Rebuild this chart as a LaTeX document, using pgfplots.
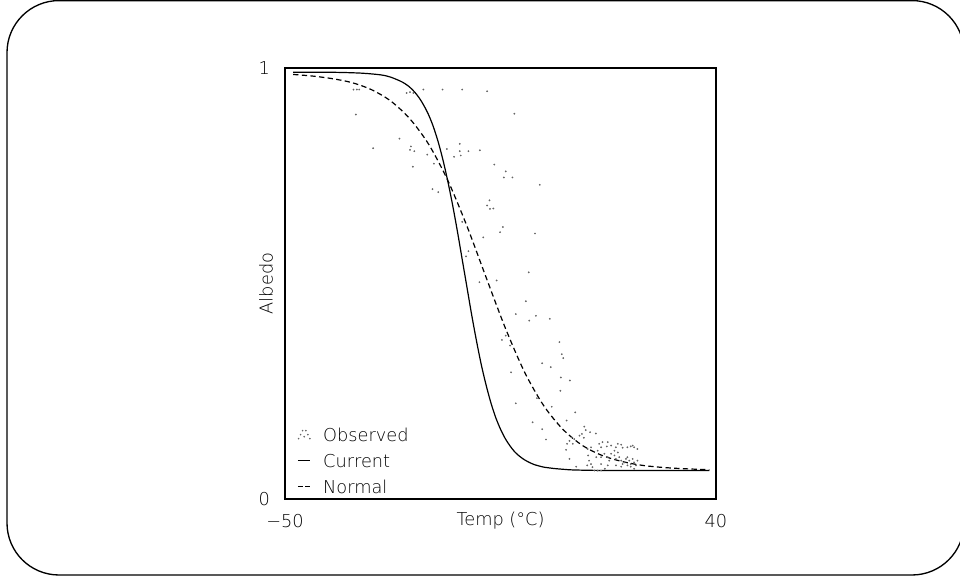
\documentclass[border=0pt]{standalone}
\usepackage{pgfplots}
\pgfplotsset{compat=1.18}
\usepackage{fontspec}
\newfontfamily\hfont{DejaVu Sans ExtraLight}
\newcommand\lf{\hfont\fontsize{13.3}{15}\selectfont}

\begin{document}
\begin{tikzpicture}
% page = 960x577 px at 0.75pt per px
\useasboundingbox (0,0) rectangle (720pt,432.75pt);
\draw[line width=1pt, rounded corners=39pt] (5.25pt,1.5pt) rectangle (723pt,432.3pt);

\begin{axis}[
    at={(213.75pt,58.5pt)}, anchor=south west,
    scale only axis,
    width=323.25pt, height=323.25pt,
    xmin=-50, xmax=40, ymin=0, ymax=1,
    xtick={-50,40}, xticklabels={−50,40},
    ytick={0,1}, yticklabels={0,1},
    major tick length=0pt,
    axis line style={line width=0.9pt},
    tick label style={font=\lf},
    xticklabel style={anchor=center, yshift=-16.3pt},
    yticklabel style={anchor=center, xshift=-15.5pt},
    xlabel={Temp (°C)},
    ylabel={Albedo},
    label style={font=\lf},
    xlabel style={at={(axis description cs:0.5,-0.0503)}, anchor=center},
    ylabel style={at={(axis description cs:-0.0441,0.5)}, anchor=center},
    legend cell align=left,
    legend style={draw=none, fill=none, at={(axis description cs:0.0285,0.0125)},
        anchor=south west, inner sep=0pt, outer sep=0pt,
        row sep=9.6pt, column sep=0pt, font=\lf,
        nodes={inner sep=0pt, outer sep=0pt, text depth=0pt}},
]

% observed
\addplot[only marks, mark=*, mark size=0.45pt, draw=black!60, fill=black!60,
    legend image code/.code={
        \fill[black!60] (0.5pt,-3pt) circle (0.4pt) (2pt,0pt) circle (0.4pt)
            (3.5pt,3pt) circle (0.4pt) (6pt,3pt) circle (0.4pt)
            (7.5pt,0pt) circle (0.4pt) (9pt,-3pt) circle (0.4pt)
            (4.75pt,-1.5pt) circle (0.4pt);
        \path[draw=none, fill=none] (0pt,0pt) -- (19pt,0pt);}]
coordinates {
(-35.7,0.950) (-35.0,0.950) (-34.5,0.950) (-35.2,0.892) (-31.6,0.814)
(-26.1,0.836) (-24.6,0.942) (-23.9,0.944) (-23.2,0.942) (-21.1,0.950)
(-17.1,0.950) (-13.0,0.950) (-7.8,0.946) (-23.7,0.818) (-23.9,0.810)
(-23.0,0.807) (-23.3,0.771) (-20.3,0.799) (-18.9,0.778) (-16.2,0.812)
(-13.5,0.824) (-13.5,0.807) (-13.3,0.797) (-14.7,0.794) (-11.7,0.807)
(-9.3,0.809) (-6.3,0.776) (-19.2,0.719) (-18.0,0.712) (-7.3,0.693)
(-7.8,0.681) (-7.2,0.673) (-6.5,0.674) (-5.1,0.619) (-13.0,0.643)
(-8.6,0.607) (-11.7,0.575) (-12.2,0.563) (-9.4,0.503) (-5.8,0.507)
(-2.1,0.894) (-3.9,0.760) (-4.3,0.746) (-2.5,0.746) (3.2,0.729)
(-4.5,0.631) (2.2,0.616) (0.9,0.526)
(0.3,0.459) (-1.8,0.429) (2.4,0.425) (1.0,0.414) (5.3,0.418)
(-3.9,0.379) (-4.7,0.369) (-3.0,0.356) (7.3,0.364) (7.8,0.336)
(8.1,0.327) (3.7,0.315) (5.5,0.306) (-2.8,0.294) (7.6,0.282)
(9.5,0.275) (7.5,0.251) (2.6,0.234) (-1.8,0.222) (5.7,0.214)
(10.6,0.201) (1.7,0.178) (8.8,0.182) (3.7,0.162) (4.5,0.138)
(12.5,0.168) (12.8,0.160) (13.7,0.155) (14.9,0.152) (9.9,0.143)
(10.4,0.139) (11.5,0.147) (12.4,0.142) (12.0,0.151) (8.9,0.128)
(9.4,0.135) (10.1,0.128) (8.7,0.114) (9.4,0.093) (10.8,0.075)
(13.2,0.116) (13.3,0.101) (13.5,0.089) (13.1,0.078) (14.2,0.074)
(14.6,0.066) (15.3,0.066) (16.0,0.066) (16.8,0.070) (13.9,0.120)
(15.3,0.112) (15.6,0.128) (16.0,0.120) (16.3,0.132) (17.4,0.132)
(17.2,0.122) (18.1,0.124) (19.1,0.120) (19.5,0.128) (20.2,0.126)
(20.5,0.119) (21.5,0.120) (22.2,0.122) (22.6,0.124) (22.9,0.120)
(23.6,0.116) (16.0,0.097) (16.7,0.105) (17.4,0.097) (17.7,0.089)
(18.8,0.101) (19.1,0.093) (19.8,0.097) (20.2,0.089) (20.5,0.081)
(20.9,0.085) (21.2,0.093) (21.5,0.097) (21.9,0.089) (22.2,0.081)
(22.6,0.093) (22.9,0.085) (23.3,0.078) (23.6,0.089) (22.9,0.070)
(22.2,0.075) (21.5,0.078) (20.2,0.075) (19.1,0.078) (17.4,0.078)
(16.0,0.081) (15.0,0.097) (13.9,0.081) (18.8,0.112) (18.1,0.105)
(19.5,0.108)
};
\addlegendentry{Observed}

% current
\addplot[black, line width=0.9pt, smooth, no marks,
    legend image code/.code={\draw[black, line width=0.9pt] (0pt,0pt) -- (9pt,0pt);
        \path[draw=none, fill=none] (0pt,0pt) -- (19pt,0pt);}]
coordinates {
(-48.3,0.990) (-40,0.990) (-34,0.988) (-30,0.984) (-28,0.979) (-26,0.970)
(-25,0.964) (-24,0.956) (-23,0.945) (-22,0.931) (-21,0.913) (-20,0.891)
(-19,0.863) (-18,0.828) (-17,0.786) (-16,0.737) (-15,0.682) (-14,0.621)
(-13,0.556) (-12,0.491) (-11,0.426) (-10,0.366) (-9,0.311) (-8,0.264)
(-7,0.223) (-6,0.189) (-5,0.162) (-4,0.140) (-3,0.123) (-2,0.109)
(-1,0.099) (0,0.091) (1,0.085) (2,0.080) (3,0.0768) (4,0.074)
(6,0.071) (8,0.069) (10,0.0675) (14,0.0665) (20,0.066) (38.6,0.066)
};
\addlegendentry{Current}

% normal
\addplot[black, line width=0.9pt, smooth, no marks, dash pattern=on 4pt off 2.5pt,
    legend image code/.code={\draw[black, line width=0.9pt, dash pattern=on 3.5pt off 2pt] (0pt,0pt) -- (9pt,0pt);
        \path[draw=none, fill=none] (0pt,0pt) -- (19pt,0pt);}]
coordinates {
(-48.3,0.985) (-44,0.981) (-40,0.975) (-36,0.966) (-32,0.950) (-28,0.924)
(-24,0.883) (-20,0.823) (-16,0.739) (-12,0.633) (-8,0.514) (-4,0.397)
(0,0.295) (4,0.217) (8,0.162) (12,0.125) (16,0.102) (20,0.088)
(24,0.079) (28,0.074) (32,0.071) (36,0.069) (38.6,0.068)
};
\addlegendentry{Normal}

\end{axis}
\end{tikzpicture}
\end{document}
